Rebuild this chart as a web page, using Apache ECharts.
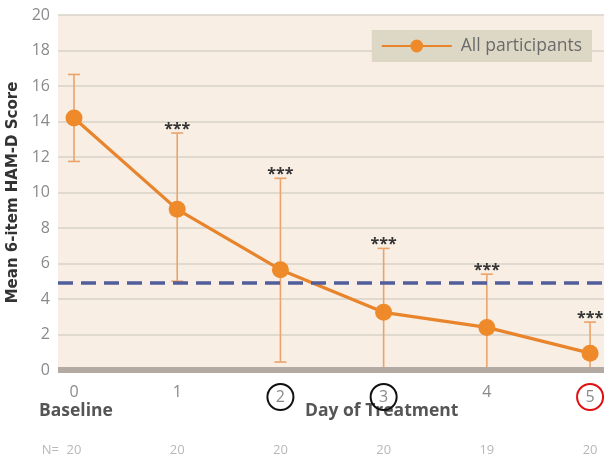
<!DOCTYPE html>
<html><head><meta charset="utf-8">
<script src="https://cdn.jsdelivr.net/npm/echarts@6/dist/echarts.min.js"></script>
<style>html,body{margin:0;padding:0;background:#fff}#c{width:604px;height:459px}</style>
</head><body><div id="c"></div>
<script>
const days = [0, 1, 2, 3, 4, 5];
const meanScore = [14.2, 9.05, 5.65, 3.25, 2.4, 0.95];
const upperErr = [16.65, 13.35, 10.8, 6.85, 5.4, 2.7];
const lowerErr = [11.75, 5.0, 0.45, 0, 0, 0];
const sigMarks = ['', '***', '***', '***', '***', '***'];
const nCounts = [20, 20, 20, 20, 19, 20];
const yTicks = [0, 2, 4, 6, 8, 10, 12, 14, 16, 18, 20];
const threshold = 4.9;
const circledDays = {2: 'b', 3: 'b', 5: 'r'};

const chart = echarts.init(document.getElementById('c'));
const FONT = '"Open Sans", "DejaVu Sans", sans-serif';

chart.setOption({
  backgroundColor: '#ffffff',
  animation: false,
  grid: { left: 58, right: 0, top: 15, bottom: 89, show: true, backgroundColor: '#f8eee3', borderWidth: 0, containLabel: false, outerBoundsMode: 'none' },
  legend: {
    right: 12, top: 30, itemWidth: 70, itemHeight: 16, itemGap: 10, padding: [7, 10, 7, 9],
    backgroundColor: '#ddd8c6', borderWidth: 0,
    textStyle: { color: '#6a6a6a', fontSize: 17.5, fontFamily: FONT, padding: [0, 0, 0, 4] },
    data: ['All participants']
  },
  xAxis: {
    type: 'value', min: -0.155, max: 5.135,
    axisLine: { show: false }, axisTick: { show: false }, splitLine: { show: false },
    axisLabel: {
      customValues: days, margin: 14, color: '#8a8a8a', fontSize: 16, fontFamily: FONT,
      formatter: v => circledDays[v] ? '{' + circledDays[v] + '|' + v + '}' : String(v),
      rich: {
        b: { borderColor: '#111', borderWidth: 2, borderRadius: 15, width: 26, height: 26, align: 'center', color: '#8a8a8a', fontSize: 16, fontFamily: FONT },
        r: { borderColor: '#e01010', borderWidth: 2, borderRadius: 15, width: 26, height: 26, align: 'center', color: '#8a8a8a', fontSize: 16, fontFamily: FONT }
      }
    }
  },
  yAxis: {
    type: 'value', min: 0, max: 20, interval: 2,
    name: 'Mean 6-item HAM-D Score', nameLocation: 'middle', nameGap: 37,
    nameTextStyle: { color: '#333', fontSize: 15, fontWeight: 'bold', fontFamily: '"DejaVu Sans", sans-serif' },
    axisLine: { show: false }, axisTick: { show: false },
    axisLabel: { color: '#8a8a8a', fontSize: 16, fontFamily: FONT, margin: 8 },
    splitLine: { lineStyle: { color: '#d9d2c8', width: 1.5 } }
  },
  graphic: [
    { type: 'text', left: 39, top: 402, style: { text: 'Baseline', fill: '#555', font: 'bold 17.5px ' + FONT } },
    { type: 'text', left: 305, top: 402, style: { text: 'Day of Treatment', fill: '#555', font: 'bold 17.5px ' + FONT } }
  ],
  series: [
    {
      type: 'custom', name: 'err', silent: true, z: 3,
      data: days.map((d, i) => [d, lowerErr[i], upperErr[i], i]),
      renderItem: (params, api) => {
        const x = api.value(0);
        const lo = api.coord([x, api.value(1)]);
        const hi = api.coord([x, api.value(2)]);
        const idx = api.value(3);
        const st = { stroke: '#eba36a', lineWidth: 1.6 };
        const children = [
          { type: 'line', shape: { x1: lo[0], y1: lo[1], x2: hi[0], y2: hi[1] }, style: st },
          { type: 'line', shape: { x1: hi[0] - 6, y1: hi[1], x2: hi[0] + 6, y2: hi[1] }, style: st }
        ];
        if (api.value(1) > 0.2) children.push({ type: 'line', shape: { x1: lo[0] - 6, y1: lo[1], x2: lo[0] + 6, y2: lo[1] }, style: st });
        if (sigMarks[idx]) children.push({ type: 'text', style: { text: sigMarks[idx], x: hi[0], y: hi[1] + 4, align: 'center', verticalAlign: 'bottom', fill: '#333', font: 'bold 16px ' + FONT } });
        return { type: 'group', children };
      }
    },
    {
      type: 'line', name: 'All participants', z: 4,
      data: days.map((d, i) => [d, meanScore[i]]),
      symbol: 'circle', symbolSize: 17,
      lineStyle: { color: '#e8842c', width: 3.2 },
      itemStyle: { color: '#ef8a2a' },
      markLine: {
        silent: true, symbol: 'none', label: { show: false },
        lineStyle: { color: '#525e9c', type: [15, 8], width: 3.5 },
        data: [{ yAxis: threshold }]
      }
    },
    {
      type: 'line', name: 'axisband', silent: true, z: 2, symbol: 'none',
      data: [],
      markLine: {
        silent: true, symbol: 'none', label: { show: false },
        lineStyle: { color: '#b3aba3', type: 'solid', width: 6 },
        data: [{ yAxis: 0 }]
      }
    },
    {
      type: 'custom', name: 'ncounts', silent: true,
      data: days.map((d, i) => [d, nCounts[i], i]),
      renderItem: (params, api) => {
        const p = api.coord([api.value(0), 0]);
        const idx = api.value(2);
        const kids = [{ type: 'text', style: { text: String(api.value(1)), x: p[0], y: p[1] + 80, align: 'center', verticalAlign: 'middle', fill: '#b8b8b8', font: '13px ' + FONT } }];
        if (idx === 0) kids.push({ type: 'text', style: { text: 'N=', x: p[0] - 15, y: p[1] + 80, align: 'right', verticalAlign: 'middle', fill: '#b8b8b8', font: '13px ' + FONT } });
        return { type: 'group', children: kids };
      },
      clip: false
    }
  ]
});
</script></body></html>
